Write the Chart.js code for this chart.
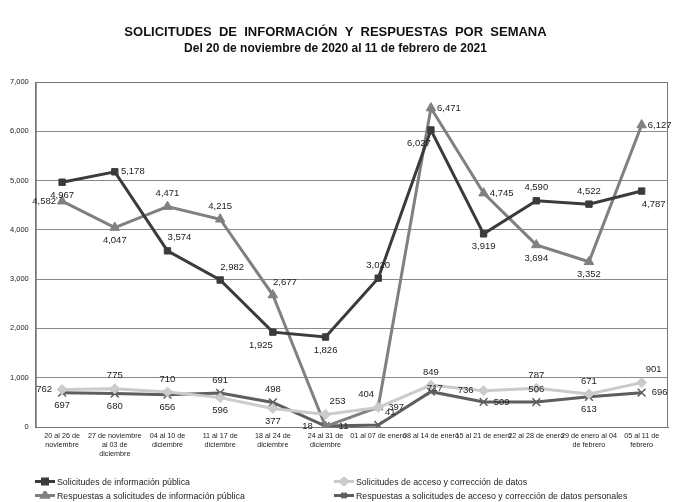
<!DOCTYPE html>
<html>
<head>
<meta charset="utf-8">
<script src="https://cdn.jsdelivr.net/npm/chart.js@4/dist/chart.umd.min.js"></script>
<style>
  html, body { margin: 0; padding: 0; background: #fff; }
  #wrap { position: relative; width: 676px; height: 502px; }
  #legend {
    position: absolute; left: 35px; top: 477px; width: 630px;
    display: grid; grid-template-columns: 299px 320px; row-gap: 5px;
    font: 8.8px "Liberation Sans", Arial, sans-serif; color: #222;
  }
  .item { display: flex; align-items: center; height: 9px; }
  .item canvas { margin-right: 2px; }
</style>
</head>
<body>
<div id="wrap">
  <canvas id="chart" width="676" height="502"></canvas>
  <div id="legend"></div>
</div>
<script>
  'use strict';

  var weeks = [
    ['20 al 26 de', 'noviembre'],
    ['27 de noviembre', 'al 03 de', 'diciembre'],
    ['04 al 10 de', 'diciembre'],
    ['11 al 17 de', 'diciembre'],
    ['18 al 24 de', 'diciembre'],
    ['24 al 31 de', 'diciembre'],
    '01 al 07 de enero',
    '08 al 14 de enero',
    '15 al 21 de enero',
    '22 al 28 de enero',
    ['29 de enero al 04', 'de febrero'],
    ['05 al 11 de', 'febrero']
  ];

  var solicitudesInfo = [4967, 5178, 3574, 2982, 1925, 1826, 3020, 6027, 3919, 4590, 4522, 4787];
  var respuestasInfo = [4582, 4047, 4471, 4215, 2677, 11, 404, 6471, 4745, 3694, 3352, 6127];
  var solicitudesAcceso = [762, 775, 710, 596, 377, 253, 397, 849, 736, 787, 671, 901];
  var respuestasAcceso = [697, 680, 656, 691, 498, 18, 41, 717, 509, 506, 613, 696];

  var yTicks = [0, 1000, 2000, 3000, 4000, 5000, 6000, 7000];

  // where each value label sits around its point: a above, b below, l left, r right, n on top of it
  var labelSpots = [
    ['b', 'r', 'ar', 'ar', 'bl', 'b', 'a', 'bl', 'b', 'a', 'a', 'br'],
    ['l', 'b', 'a', 'a', 'ar', 'r', 'al', 'r', 'r', 'b', 'b', 'r'],
    ['l', 'a', 'a', 'b', 'b', 'ar', 'r', 'a', 'l', 'a', 'a', 'ar'],
    ['b', 'b', 'b', 'a', 'a', 'l', 'ar', 'n', 'r', 'a', 'b', 'r']
  ];

  var series = [
    { label: 'Solicitudes de información pública', data: solicitudesInfo,
      color: '#3b3b3b', point: 'rect', radius: 4.5 },
    { label: 'Solicitudes de acceso y corrección de datos', data: solicitudesAcceso,
      color: '#cbcbcb', point: 'rectRot', radius: 5 },
    { label: 'Respuestas a solicitudes de información pública', data: respuestasInfo,
      color: '#808080', point: 'triangle', radius: 5.5 },
    { label: 'Respuestas a solicitudes de acceso y corrección de datos personales', data: respuestasAcceso,
      color: '#5e5e5e', point: 'crossRot', radius: 5.5 }
  ];
  var spotFor = [labelSpots[0], labelSpots[2], labelSpots[1], labelSpots[3]];

  var fmt = function (v) { return v.toLocaleString('en-US'); };

  var valueLabels = {
    id: 'valueLabels',
    afterDatasetsDraw: function (chart) {
      var ctx = chart.ctx;
      ctx.save();
      ctx.font = '9.5px "Liberation Sans", Arial, sans-serif';
      ctx.fillStyle = '#222';
      ctx.textAlign = 'center';
      ctx.textBaseline = 'middle';
      chart.data.datasets.forEach(function (ds, i) {
        chart.getDatasetMeta(i).data.forEach(function (pt, j) {
          var s = spotFor[i][j], dx = 0, dy = 0;
          if (s.indexOf('a') >= 0) dy = -13;
          if (s.indexOf('b') >= 0) dy = 13;
          if (s.indexOf('l') >= 0) dx = s.length > 1 ? -12 : -18;
          if (s.indexOf('r') >= 0) dx = s.length > 1 ? 12 : 18;
          if (s === 'n') { dx = 4; dy = -3; }
          ctx.fillText(fmt(ds.data[j]), pt.x + dx, pt.y + dy);
        });
      });
      ctx.restore();
    }
  };

  var plotBox = {
    id: 'plotBox',
    beforeDatasetsDraw: function (chart) {
      var a = chart.chartArea, ctx = chart.ctx;
      ctx.save();
      ctx.strokeStyle = '#777';
      ctx.lineWidth = 1;
      ctx.strokeRect(a.left + 0.5, a.top + 0.5, a.right - a.left - 1, a.bottom - a.top);
      ctx.restore();
    }
  };

  var chart = new Chart(document.getElementById('chart').getContext('2d'), {
    type: 'line',
    data: {
      labels: weeks,
      datasets: series.map(function (s) {
        return {
          label: s.label,
          data: s.data,
          borderColor: s.color,
          backgroundColor: s.color,
          borderWidth: 3,
          pointStyle: s.point,
          pointRadius: s.radius,
          pointBorderWidth: s.point === 'crossRot' ? 1.5 : 1,
          tension: 0
        };
      })
    },
    options: {
      responsive: false,
      animation: false,
      layout: { padding: { left: 3, right: 8, top: 0, bottom: 38 } },
      plugins: {
        legend: { display: false },
        tooltip: { enabled: false },
        title: {
          display: true,
          text: 'SOLICITUDES  DE  INFORMACIÓN  Y  RESPUESTAS  POR  SEMANA',
          color: '#111',
          font: { family: '"Liberation Sans", Arial, sans-serif', size: 13, weight: 'bold' },
          padding: { top: 25, bottom: 0 }
        },
        subtitle: {
          display: true,
          text: 'Del 20 de noviembre de 2020 al 11 de febrero de 2021',
          color: '#111',
          font: { family: '"Liberation Sans", Arial, sans-serif', size: 12, weight: 'bold' },
          padding: { top: 1, bottom: 26 }
        }
      },
      scales: {
        x: {
          offset: true,
          grid: { display: false, drawTicks: false },
          border: { color: '#777', width: 1 },
          ticks: {
            autoSkip: false, maxRotation: 0, minRotation: 0, padding: 5,
            color: '#222',
            font: { family: '"Liberation Sans", Arial, sans-serif', size: 7.2, lineHeight: 1.25 }
          }
        },
        y: {
          min: 0, max: 7000,
          afterBuildTicks: function (axis) {
            axis.ticks = yTicks.map(function (v) { return { value: v }; });
          },
          grid: { color: '#8a8a8a', lineWidth: 1, drawTicks: false },
          border: { color: '#777', width: 1 },
          ticks: {
            padding: 7, color: '#222',
            font: { family: '"Liberation Sans", Arial, sans-serif', size: 7.5 },
            callback: function (v) { return fmt(v); }
          }
        }
      }
    },
    plugins: [plotBox, valueLabels]
  });

  // legend in two columns like the original
  var legendBox = document.getElementById('legend');
  [0, 1, 2, 3].forEach(function (i) {
    var s = series[i];
    var item = document.createElement('div');
    item.className = 'item';
    var c = document.createElement('canvas');
    c.width = 20; c.height = 9;
    var g = c.getContext('2d');
    g.strokeStyle = s.color; g.fillStyle = s.color; g.lineWidth = 3;
    g.beginPath(); g.moveTo(0, 4.5); g.lineTo(20, 4.5); g.stroke();
    Chart.helpers.drawPoint(g, { pointStyle: s.point, radius: 3.5, borderWidth: 1 }, 10, 4.5);
    g.fill();
    item.appendChild(c);
    var t = document.createElement('span');
    t.textContent = s.label;
    item.appendChild(t);
    legendBox.appendChild(item);
  });
</script>
</body>
</html>
